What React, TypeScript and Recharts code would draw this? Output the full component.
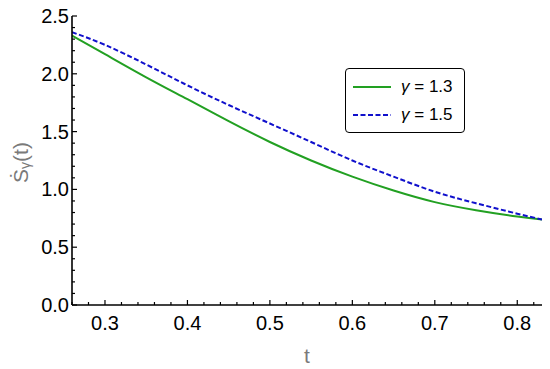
import { Line, LineChart, XAxis, YAxis } from 'recharts';

// t values sampled along the curves
const tValues = [0.26, 0.3, 0.35, 0.4, 0.45, 0.5, 0.55, 0.6, 0.65, 0.7, 0.75, 0.8, 0.83];
// Ṡγ(t) for γ = 1.3 (solid green)
const gamma13 = [2.33, 2.17, 1.97, 1.78, 1.59, 1.41, 1.25, 1.11, 0.99, 0.89, 0.82, 0.765, 0.74];
// Ṡγ(t) for γ = 1.5 (dashed blue)
const gamma15 = [2.36, 2.25, 2.08, 1.9, 1.73, 1.57, 1.41, 1.25, 1.11, 0.98, 0.88, 0.79, 0.74];

// tick positions: majors carry labels, the rest are minor marks
const xTicks = Array.from({ length: 29 }, (_, i) => +(0.26 + i * 0.02).toFixed(2));
const yTicks = Array.from({ length: 26 }, (_, i) => +(i * 0.1).toFixed(1));

const legendItems = [
  { label: '1.3', key: 'g13' },
  { label: '1.5', key: 'g15' },
];

const GREEN = '#22a022';
const BLUE = '#1010cc';
const GREY = '#7a7a7a';
const DASH = '5 2.5';

const rows = tValues.map((t, i) => ({ t, g13: gamma13[i], g15: gamma15[i] }));

const isMajor = (v: number, step: number) => Math.abs(v / step - Math.round(v / step)) < 1e-6;

function XTick({ x, y, payload }: any) {
  const major = isMajor(payload.value, 0.1);
  return (
    <g>
      <line x1={x} x2={x} y1={y} y2={y - (major ? 5 : 3)} stroke="#000" strokeWidth={1.2} />
      {major && (
        <text x={x} y={y + 25} textAnchor="middle" fontSize={20} fill="#000">
          {payload.value.toFixed(1)}
        </text>
      )}
    </g>
  );
}

function YTick({ x, y, payload }: any) {
  const major = isMajor(payload.value, 0.5);
  return (
    <g>
      <line x1={x} x2={x + (major ? 5 : 3)} y1={y} y2={y} stroke="#000" strokeWidth={1.2} />
      {major && (
        <text x={x - 3} y={y} textAnchor="end" dominantBaseline="central" fontSize={20} fill="#000">
          {payload.value.toFixed(1)}
        </text>
      )}
    </g>
  );
}

function YLabel({ viewBox }: any) {
  const cx = 20;
  const cy = viewBox.y + viewBox.height / 2 + 2;
  return (
    <text
      x={cx}
      y={cy}
      transform={`rotate(-90 ${cx} ${cy})`}
      textAnchor="middle"
      dominantBaseline="central"
      fontSize={21}
      fill={GREY}
    >
      {'\u1E60'}
      <tspan fontSize={14} dy={5}>γ</tspan>
      <tspan dy={-5}>(t)</tspan>
    </text>
  );
}

function LegendBox() {
  return (
    <div
      style={{
        position: 'absolute',
        left: 345,
        top: 68,
        border: '1.6px solid #000',
        borderRadius: 4,
        width: 120,
        height: 65,
        boxSizing: 'border-box',
        background: '#fff',
        padding: '4px 0 0 7px',
      }}
    >
      {legendItems.map((it) => {
        const blue = it.key === 'g15';
        return (
          <div key={it.key} style={{ display: 'flex', alignItems: 'center', height: 28 }}>
            <svg width={38} height={6}>
              <line
                x1={0}
                x2={38}
                y1={3}
                y2={3}
                stroke={blue ? BLUE : GREEN}
                strokeWidth={2}
                strokeDasharray={blue ? DASH : undefined}
              />
            </svg>
            <span style={{ marginLeft: 10, fontSize: 17 }}>
              <i>γ</i> = {it.label}
            </span>
          </div>
        );
      })}
    </div>
  );
}

export default function App() {
  return (
    <div
      style={{
        position: 'absolute',
        left: 0,
        top: 0,
        width: 550,
        height: 369,
        fontFamily: 'Liberation Sans, Arial, sans-serif',
      }}
    >
      <LineChart width={550} height={369} data={rows} margin={{ top: 16, right: 8, bottom: 0, left: 0 }}>
        <XAxis
          dataKey="t"
          type="number"
          domain={[0.26, 0.83]}
          allowDataOverflow
          ticks={xTicks}
          interval={0}
          tick={<XTick />}
          tickLine={false}
          tickSize={0}
          tickMargin={0}
          height={64}
          axisLine={{ stroke: '#000', strokeWidth: 1.6 }}
          label={{ value: 't', position: 'insideBottom', offset: 6, fontSize: 21, fill: GREY }}
        />
        <YAxis
          type="number"
          domain={[0, 2.5]}
          allowDataOverflow
          ticks={yTicks}
          interval={0}
          tick={<YTick />}
          tickLine={false}
          tickSize={0}
          tickMargin={0}
          width={72}
          axisLine={{ stroke: '#000', strokeWidth: 1.6 }}
          label={<YLabel />}
        />
        <Line
          type="natural"
          dataKey="g13"
          stroke={GREEN}
          strokeWidth={2}
          dot={false}
          isAnimationActive={false}
        />
        <Line
          type="natural"
          dataKey="g15"
          stroke={BLUE}
          strokeWidth={2}
          strokeDasharray={DASH}
          dot={false}
          isAnimationActive={false}
        />
      </LineChart>
      <LegendBox />
    </div>
  );
}
